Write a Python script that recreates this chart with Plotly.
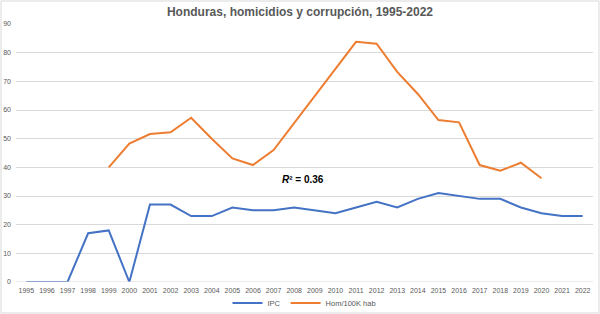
import plotly.graph_objects as go

years = [str(y) for y in range(1995, 2023)]
ipc = [0, 0, 0, 17, 18, 0, 27, 27, 23, 23, 26, 25, 25, 26, 25, 24, 26, 28, 26, 29, 31, 30, 29, 29, 26, 24, 23, 23]
hom = [None, None, None, None, 40, 48.3, 51.6, 52.2, 57.3, 50, 43.1, 40.8, 46, 55.5, 65, 74.5, 83.8, 83.1, 73.3, 65.6, 56.5, 55.7, 40.8, 38.8, 41.6, 36.2, None, None]

fig = go.Figure()
fig.add_trace(go.Scatter(x=years, y=ipc, mode="lines", name="IPC",
                         line=dict(color="#4472C4", width=2)))
fig.add_trace(go.Scatter(x=years, y=hom, mode="lines", name="Hom/100K hab",
                         line=dict(color="#ED7D31", width=2), connectgaps=False))

fig.update_layout(
    width=600, height=314,
    margin=dict(l=16, r=7, t=24, b=32, autoexpand=False),
    paper_bgcolor="white", plot_bgcolor="white",
    font=dict(family="Liberation Sans, Arial", color="#595959", size=7),
    title=dict(text="<b>Honduras, homicidios y corrupción, 1995-2022</b>",
               x=0.5, xanchor="center", y=1 - 12/314, yanchor="middle",
               font=dict(size=12, color="#595959")),
    showlegend=True,
    legend=dict(orientation="h", x=0.5, xanchor="center", y=1 - 303/314, yanchor="middle",
                yref="container",
                font=dict(size=7.5, color="#595959"), itemwidth=30,
                bgcolor="rgba(0,0,0,0)"),
    xaxis=dict(type="category", range=[-0.5, 27.5], showgrid=False, showline=False,
               ticks="", tickfont=dict(size=7, color="#595959"), zeroline=False,
               fixedrange=True, ticklabelstandoff=3),
    yaxis=dict(range=[0, 90], dtick=10, showgrid=True, gridcolor="#D9D9D9",
               gridwidth=1, zeroline=False, showline=False, ticks="",
               tickfont=dict(size=7, color="#595959"), ticklabelstandoff=4),
    annotations=[dict(text="<b><i>R</i>² = 0.36</b>", x=0.497, xref="paper",
                      y=35.9, yref="y", showarrow=False,
                      font=dict(size=10, color="#000000"))],
    shapes=[dict(type="line", xref="paper", yref="y", x0=0, x1=1, y0=0, y1=0,
                 line=dict(color="#D9D9D9", width=1)),
            dict(type="rect", xref="paper", yref="paper",
                 x0=-15/577, x1=1 + 6/577, y0=-31/258, y1=1 + 23/258,
                 line=dict(color="#D9D9D9", width=1), layer="below")],
)

fig.write_html("out.html")
